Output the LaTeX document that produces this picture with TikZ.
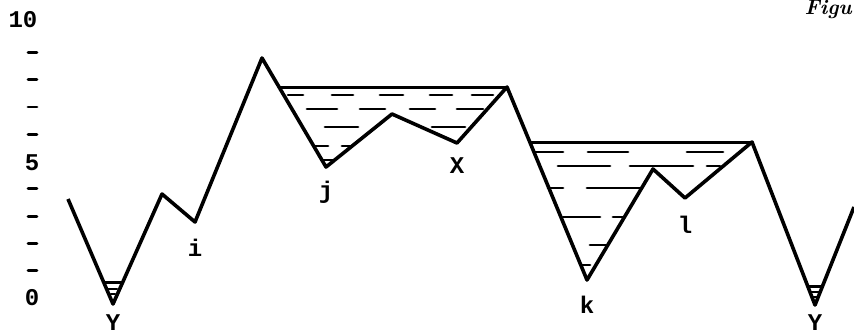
\documentclass[tikz,border=0pt]{standalone}
\usepackage{fontspec}
\setmonofont{Liberation Mono}
\usetikzlibrary{positioning}

\begin{document}
\begin{tikzpicture}[
x=0.5pt, y=-0.5pt,
ground/.style={line width=1.8pt, line join=round},
surface/.style={line width=1.5pt},
wave/.style={line width=1.4pt, line cap=round},
lbl/.style={font=\ttfamily\bfseries\fontsize{12}{14}\selectfont, inner sep=0pt}
]
\useasboundingbox (0,0) rectangle (854,334);

% Achse
\node[lbl] (ten) at (23,20) {10};
\node[lbl] (five) at (32,163) {5};
\node[lbl] (zero) at (32,298) {0};
\foreach \n in {1,2,3,4,6,7,8,9}
  \draw[wave] (28,298-27.3*\n) -- (37,298-27.3*\n);

\node[font=\bfseries\itshape\fontsize{10.5}{12}\selectfont, anchor=base east, inner sep=0pt] (fig) at (852,14) {Figu};

% Profil
\coordinate (start) at (68,199);
\coordinate (Y) at (113,304);
\coordinate (p1) at (162,194);
\coordinate (i) at (195,222);
\coordinate (p2) at (262,58);
\coordinate (j) at (326,167);
\coordinate (p3) at (392,114);
\coordinate (X) at (457,143);
\coordinate (p4) at (507,87);
\coordinate (k) at (587,280);
\coordinate (p5) at (653,169);
\coordinate (l) at (685,198);
\coordinate (p6) at (752,142);
\coordinate (Y2) at (815,305);
\coordinate (end) at (854,207);

\draw[ground] (start) -- (Y) -- (p1) -- (i) -- (p2) -- (j) -- (p3) -- (X)
  -- (p4) -- (k) -- (p5) -- (l) -- (p6) -- (Y2) -- (end);

% Beschriftung
\node[lbl, below=5pt of Y] (lY) {Y};
\node[lbl, below=8.5pt of i] (li) {i};
\node[lbl, below=7pt of j] (lj) {j};
\node[lbl, below=7pt of X] (lX) {X};
\node[lbl, below=8pt of k] (lk) {k};
\node[lbl, below=9pt of l] (ll) {l};
\node[lbl, below=4.5pt of Y2] (lY2) {Y};

% Seen
\coordinate (lakeA) at (278,87);
\coordinate (lakeB) at (530,142);
\draw[surface] (lakeA) -- (p4);
\draw[surface] (lakeB) -- (p6);

\foreach \h/\a/\b in {95/288/303, 95/332/353, 95/380/403, 95/430/452, 95/472/493,
  109/307/337, 109/360/385, 109/410/435, 109/457/483,
  127/325/358, 127/432/465,
  146/315/328, 146/342/352,
  160/323/333}
  \draw[wave] (\a,\h) -- (\b,\h);

\foreach \h/\a/\b in {152/535/563, 152/588/628, 152/687/723,
  166/558/610, 166/630/693, 166/707/720,
  188/548/563, 188/587/640,
  217/563/600, 217/613/623,
  245/590/607,
  265/582/590}
  \draw[wave] (\a,\h) -- (\b,\h);

% kleine Seen
\draw[surface] (104,282) -- (122,282);
\draw[wave] (108,289) -- (117,289);
\draw[wave] (111,294) -- (115,294);
\draw[surface] (808,286) -- (823,286);
\draw[wave] (811,292) -- (819,292);
\draw[wave] (812,297) -- (818,297);

\end{tikzpicture}
\end{document}
